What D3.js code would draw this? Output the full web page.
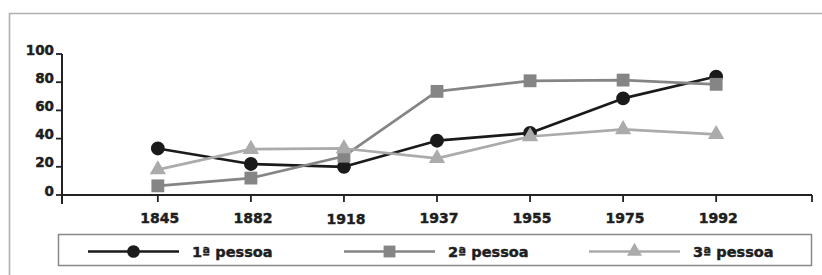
<!DOCTYPE html>
<html>
<head>
<meta charset="utf-8">
<script src="https://cdn.jsdelivr.net/npm/d3@7"></script>
<style>
  html, body { margin: 0; padding: 0; background: #fff; }
  svg { display: block; }
  text { font-family: "DejaVu Sans", sans-serif; font-weight: bold; fill: #1e1e1e; stroke: #1e1e1e; stroke-width: 0.45px; }
</style>
</head>
<body>
<svg id="chart" width="822" height="275"></svg>
<script>
// ---- data ----
const categories = ["1845", "1882", "1918", "1937", "1955", "1975", "1992"];
const pessoa1 = [33, 22, 20, 38.5, 44, 68.5, 84];
const pessoa2 = [6.5, 12, 27.5, 73.5, 81, 81.5, 78.5];
const pessoa3 = [18, 32.5, 33, 26, 41.5, 46.5, 43];
const yTicks = [0, 20, 40, 60, 80, 100];
const seriesNames = ["1ª pessoa", "2ª pessoa", "3ª pessoa"];

const series = [
  { name: seriesNames[0], values: pessoa1, color: "#1a1a1a", symbol: d3.symbolCircle, size: 150 },
  { name: seriesNames[1], values: pessoa2, color: "#858585", symbol: d3.symbolSquare, size: 165 },
  { name: seriesNames[2], values: pessoa3, color: "#ababab", symbol: d3.symbolTriangle, size: 115 }
];

const svg = d3.select("#chart");

// frame
svg.append("path")
  .attr("d", "M9.5,275 L9.5,13.5 L822,13.5")
  .attr("fill", "none").attr("stroke", "#b0b0b0").attr("stroke-width", 1.6);

const x0 = 62, x1 = 812, yTop = 54, yBase = 195;
const x = d3.scalePoint().domain(categories).range([x0, x1]).padding(1.03);
const y = d3.scaleLinear().domain([0, 100]).range([yBase, yTop]);

const axisColor = "#222";

// y axis
const gy = svg.append("g");
gy.append("line").attr("x1", x0).attr("x2", x0).attr("y1", y(100)).attr("y2", yBase + 9)
  .attr("stroke", axisColor).attr("stroke-width", 2);
gy.selectAll(".yt").data(yTicks).join("line")
  .attr("x1", x0 - 6).attr("x2", x0).attr("y1", d => y(d)).attr("y2", d => y(d))
  .attr("stroke", axisColor).attr("stroke-width", 1.8);
gy.selectAll(".yl").data(yTicks).join("text")
  .attr("x", x0 - 8).attr("y", d => y(d) + 0.5)
  .attr("text-anchor", "end").attr("font-size", 13.5).text(d => d);

// x axis
const gx = svg.append("g");
gx.append("line").attr("x1", x0).attr("x2", x1).attr("y1", yBase).attr("y2", yBase)
  .attr("stroke", axisColor).attr("stroke-width", 2);
gx.selectAll(".xt").data(categories).join("line")
  .attr("x1", d => x(d)).attr("x2", d => x(d)).attr("y1", yBase).attr("y2", yBase + 7)
  .attr("stroke", axisColor).attr("stroke-width", 1.8);
gx.append("line").attr("x1", x1).attr("x2", x1).attr("y1", yBase).attr("y2", yBase + 7)
  .attr("stroke", axisColor).attr("stroke-width", 1.8);
gx.selectAll(".xl").data(categories).join("text")
  .attr("x", d => x(d) + 2).attr("y", d => d === "1918" ? 224 : 222.5)
  .attr("text-anchor", "middle").attr("font-size", 14).text(d => d);

// series
const line = d3.line().x((d, i) => x(categories[i])).y(d => y(d));
series.forEach(s => {
  const g = svg.append("g");
  g.append("path").attr("d", line(s.values))
    .attr("fill", "none").attr("stroke", s.color).attr("stroke-width", 2.7)
    .attr("stroke-linejoin", "round");
  g.selectAll("path.m").data(s.values).join("path")
    .attr("class", "m")
    .attr("transform", (d, i) => `translate(${x(categories[i])},${y(d)})`)
    .attr("d", d3.symbol().type(s.symbol).size(s.size))
    .attr("fill", s.color);
});

// legend
const lg = svg.append("g");
lg.append("rect").attr("x", 58.5).attr("y", 234.5).attr("width", 753).attr("height", 31)
  .attr("fill", "#fff").attr("stroke", "#888").attr("stroke-width", 1.5);
const legendX = [88, 344, 589];
series.forEach((s, i) => {
  const lx = legendX[i];
  const cy = 251.5;
  lg.append("line").attr("x1", lx).attr("x2", lx + 91).attr("y1", cy).attr("y2", cy)
    .attr("stroke", s.color).attr("stroke-width", 2.7);
  lg.append("path").attr("transform", `translate(${lx + 45.5},${cy})`)
    .attr("d", d3.symbol().type(s.symbol).size(s.size * 0.85)).attr("fill", s.color);
  lg.append("text").attr("x", lx + 104).attr("y", cy + 5.5)
    .attr("font-size", 14.5).text(s.name);
});
</script>
</body>
</html>
